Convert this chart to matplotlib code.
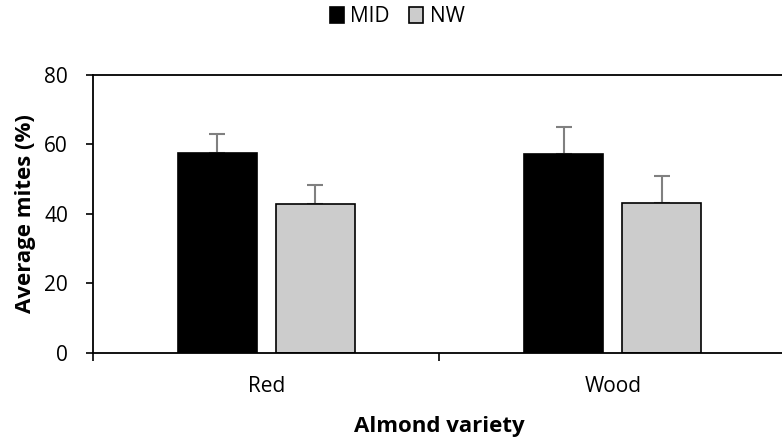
import numpy as np
import matplotlib
matplotlib.use("Agg")
import matplotlib.pyplot as plt

plt.rcParams['font.family'] = ['Open Sans', 'DejaVu Sans']

# data
varieties = ['Red', 'Wood']
mid_vals = [57.5, 57.3]
mid_err = [5.4, 7.8]
nw_vals = [42.8, 43.0]
nw_err = [5.5, 8.0]

fig = plt.figure(figsize=(7.82, 4.40), dpi=100)
ax = fig.add_axes([0.1189, 0.1984, 0.8862, 0.6311])

x = np.arange(len(varieties))
w = 0.228
off = 0.142

ax.bar(x - off, mid_vals, w, color='black', edgecolor='black', linewidth=1.2,
       label='MID', zorder=2)
ax.bar(x + off, nw_vals, w, color='#cccccc', edgecolor='black', linewidth=1.2,
       label='NW', zorder=2)
ax.errorbar(x - off, mid_vals, yerr=[np.zeros(2), mid_err], fmt='none',
            ecolor='#808080', elinewidth=1.5, capsize=5.5, capthick=1.5, zorder=1)
ax.errorbar(x + off, nw_vals, yerr=[np.zeros(2), nw_err], fmt='none',
            ecolor='#808080', elinewidth=1.5, capsize=5.5, capthick=1.5, zorder=1)

ax.set_xlim(-0.5, 1.5)
ax.set_ylim(0, 80)
ax.set_yticks([0, 20, 40, 60, 80])
ax.set_xticks([-0.5, 0.5, 1.5])
ax.set_xticklabels([])
ax.set_xticks(x, minor=True)
ax.set_xticklabels(varieties, minor=True)
ax.tick_params(axis='x', which='minor', length=0, pad=17, labelsize=15)
ax.tick_params(axis='x', which='major', length=6, width=1.2, direction='out')
ax.tick_params(axis='y', length=5, width=1.2, direction='out', labelsize=15, pad=13)
for s in ax.spines.values():
    s.set_linewidth(1.3)

ax.set_xlabel('Almond variety', fontsize=16, fontweight='bold', va='baseline')
ax.xaxis.set_label_coords(0.5, -0.2856)
ax.set_ylabel('Average mites (%)', fontsize=16, fontweight='bold', va='center')
ax.yaxis.set_label_coords(-0.098, 0.5)

fig.legend(loc='center', bbox_to_anchor=(397 / 782, 1 - 17 / 440), ncol=2,
           frameon=False, fontsize=15, handlelength=0.7, handleheight=0.8,
           handletextpad=0.3, columnspacing=0.9, borderpad=0)

fig.savefig('out.png', dpi=100)
